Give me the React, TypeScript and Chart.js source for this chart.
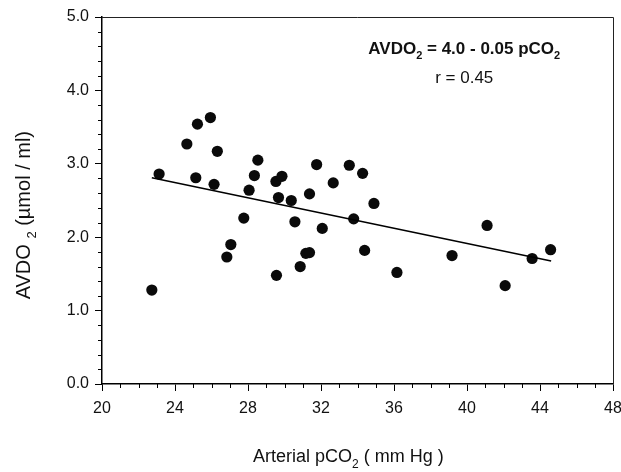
import React, { useEffect, useLayoutEffect, useRef } from 'react';
import { Chart, registerables } from 'chart.js';

Chart.register(...registerables);

// Arterial pCO2 (mm Hg)
const pco2 = [
  22.73, 23.13, 24.65, 25.23, 25.94, 25.14, 26.32, 26.14, 26.84, 27.06,
  27.77, 28.06, 28.35, 28.54, 29.56, 29.53, 29.86, 29.67, 30.37, 30.57,
  30.86, 31.17, 31.37, 31.37, 31.76, 32.07, 32.67, 33.55, 33.79, 34.28,
  34.39, 34.9, 36.16, 39.18, 41.1, 42.09, 43.57, 44.58,
];
// AVDO2 (µmol / ml)
const avdo2 = [
  1.28, 2.86, 3.27, 3.54, 3.63, 2.81, 3.17, 2.72, 1.73, 1.9,
  2.26, 2.64, 2.84, 3.05, 1.48, 2.76, 2.83, 2.54, 2.5, 2.21,
  1.6, 1.78, 1.79, 2.59, 2.99, 2.12, 2.74, 2.98, 2.25, 2.87,
  1.82, 2.46, 1.52, 1.75, 2.16, 1.34, 1.71, 1.83,
];
// Regression line end points
const fitPco2 = [22.73, 44.61];
const fitAvdo2 = [2.81, 1.675];

const xMin = 20;
const xMax = 48;
const xStep = 4;
const yMin = 0;
const yMax = 5;
const yStep = 1;

type Part = { t: string; sub?: boolean };
const xTitle: Part[] = [{ t: 'Arterial pCO' }, { t: '2', sub: true }, { t: ' ( mm Hg )' }];
const yTitle: Part[] = [{ t: 'AVDO ' }, { t: '2', sub: true }, { t: ' (µmol / ml)' }];
const eqText: Part[] = [
  { t: 'AVDO' },
  { t: '2', sub: true },
  { t: ' = 4.0 - 0.05 pCO' },
  { t: '2', sub: true },
];
const rText: Part[] = [{ t: 'r = 0.45' }];

const FONT = '"Liberation Sans", Arial, Helvetica, sans-serif';

function drawRich(
  ctx: CanvasRenderingContext2D,
  parts: Part[],
  cx: number,
  cy: number,
  size: number,
  weight: string,
  rotate = 0
) {
  ctx.save();
  ctx.translate(cx, cy);
  if (rotate) ctx.rotate(rotate);
  ctx.fillStyle = '#111';
  ctx.textBaseline = 'alphabetic';
  ctx.textAlign = 'left';
  const fontFor = (p: Part) => `${weight} ${p.sub ? Math.round(size * 0.65) : size}px ${FONT}`;
  let total = 0;
  const widths = parts.map((p) => {
    ctx.font = fontFor(p);
    const w = ctx.measureText(p.t).width;
    total += w;
    return w;
  });
  let x = -total / 2;
  const base = size * 0.36;
  parts.forEach((p, i) => {
    ctx.font = fontFor(p);
    ctx.fillText(p.t, x, p.sub ? base + size * 0.28 : base);
    x += widths[i];
  });
  ctx.restore();
}

const decorPlugin = {
  id: 'decor',
  afterDraw(chart: any) {
    const { ctx, chartArea: a, scales } = chart;
    const xs = scales.x;
    const ys = scales.y;
    ctx.save();
    // top and right frame
    ctx.strokeStyle = '#222';
    ctx.lineWidth = 1;
    ctx.beginPath();
    ctx.moveTo(a.left, Math.round(a.top) + 0.5);
    ctx.lineTo(Math.round(a.right) + 0.5, Math.round(a.top) + 0.5);
    ctx.lineTo(Math.round(a.right) + 0.5, a.bottom);
    ctx.stroke();
    // minor ticks
    ctx.strokeStyle = '#000';
    ctx.lineWidth = 1;
    ctx.beginPath();
    for (let v = xMin; v <= xMax; v++) {
      if ((v - xMin) % xStep === 0) continue;
      const px = Math.round(xs.getPixelForValue(v)) + 0.5;
      ctx.moveTo(px, a.bottom);
      ctx.lineTo(px, a.bottom + 4);
    }
    for (let i = 0; i <= (yMax - yMin) * 5; i++) {
      if (i % 5 === 0) continue;
      const py = Math.round(ys.getPixelForValue(yMin + i * 0.2)) + 0.5;
      ctx.moveTo(a.left - 4, py);
      ctx.lineTo(a.left, py);
    }
    ctx.stroke();
    ctx.restore();

    // annotation
    drawRich(ctx, eqText, xs.getPixelForValue(39.85), ys.getPixelForValue(4.575), 17, 'bold');
    drawRich(ctx, rText, xs.getPixelForValue(39.85), ys.getPixelForValue(4.18), 17, 'normal');
    // axis titles
    drawRich(ctx, xTitle, xs.getPixelForValue(33.5), a.bottom + 72, 18, 'normal');
    drawRich(ctx, yTitle, a.left - 79, ys.getPixelForValue(2.3), 20, 'normal', -Math.PI / 2);
  },
};

export default function App() {
  const ref = useRef<HTMLCanvasElement | null>(null);
  useLayoutEffect(() => {
    document.body.style.margin = '0';
  }, []);
  useEffect(() => {
    if (!ref.current) return;
    const points = pco2.map((x, i) => ({ x, y: avdo2[i] }));
    const fit = fitPco2.map((x, i) => ({ x, y: fitAvdo2[i] }));
    const chart = new Chart(ref.current, {
      type: 'scatter',
      data: {
        datasets: [
          {
            data: fit,
            showLine: true,
            borderColor: '#000',
            borderWidth: 1.5,
            pointRadius: 0,
            fill: false,
          } as any,
          {
            data: points,
            pointRadius: 5.6,
            pointBackgroundColor: '#0a0a0a',
            pointBorderWidth: 0,
            pointBorderColor: '#0a0a0a',
          } as any,
        ],
      },
      options: {
        responsive: false,
        animation: false,
        layout: { padding: { top: 17, right: 8, left: 0, bottom: 0 } },
        plugins: { legend: { display: false }, tooltip: { enabled: false } },
        scales: {
          x: {
            type: 'linear',
            min: xMin,
            max: xMax,
            ticks: {
              stepSize: xStep,
              color: '#111',
              padding: 8,
              font: { family: FONT, size: 16 },
              maxRotation: 0,
              callback: (v: any) => String(v),
            },
            grid: { drawOnChartArea: false, tickLength: 7, color: '#000', tickColor: '#000' },
            border: { color: '#000', width: 1.5 },
            afterFit: (s: any) => {
              s.height = 88;
              s.paddingLeft = 0;
              s.paddingRight = 0;
            },
          },
          y: {
            type: 'linear',
            min: yMin,
            max: yMax,
            ticks: {
              stepSize: yStep,
              color: '#111',
              padding: 6,
              font: { family: FONT, size: 16 },
              callback: (v: any) => Number(v).toFixed(1),
            },
            grid: { drawOnChartArea: false, tickLength: 7, color: '#000', tickColor: '#000' },
            border: { color: '#000', width: 1.5 },
            afterFit: (s: any) => {
              s.width = 102;
              s.paddingTop = 0;
              s.paddingBottom = 0;
            },
          },
        },
      },
      plugins: [decorPlugin],
    });
    return () => chart.destroy();
  }, []);
  return (
    <div style={{ width: 621, height: 472 }}>
      <canvas
        ref={ref}
        width={621}
        height={472}
        style={{ display: 'block', width: 621, height: 472 }}
      />
    </div>
  );
}
